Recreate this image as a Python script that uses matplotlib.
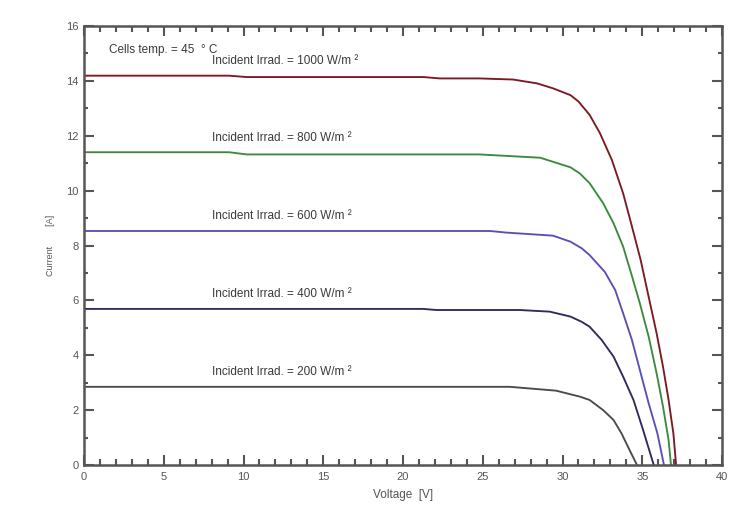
import matplotlib
matplotlib.use("Agg")
from matplotlib import pyplot as plt
from matplotlib.ticker import MultipleLocator

plt.rcParams['font.family'] = ['Liberation Sans', 'DejaVu Sans']

# I-V curves, one per irradiance level
v_1000 = [0, 9.1, 10.2, 21.3, 22.3, 24.8, 26.9, 28.4, 29.4, 30.5, 31.0, 31.7, 32.35,
          33.1, 33.8, 34.3, 34.9, 35.4, 35.9, 36.3, 36.65, 36.95, 37.12]
i_1000 = [14.19, 14.19, 14.14, 14.14, 14.09, 14.09, 14.05, 13.91, 13.73, 13.48, 13.25, 12.76, 12.09,
          11.11, 9.90, 8.81, 7.47, 6.13, 4.80, 3.58, 2.37, 1.15, 0]

v_800 = [0, 9.1, 10.2, 24.8, 28.6, 30.5, 31.1, 31.7, 32.55, 33.2, 33.8, 34.3, 34.85,
         35.4, 35.9, 36.3, 36.65, 36.8]
i_800 = [11.40, 11.40, 11.32, 11.32, 11.20, 10.85, 10.62, 10.27, 9.54, 8.81, 7.96, 6.99, 5.89,
         4.68, 3.34, 2.13, 0.91, 0]

v_600 = [0, 25.45, 26.5, 29.4, 30.5, 31.2, 31.7, 32.65, 33.3, 33.8, 34.35, 34.85,
         35.4, 35.95, 36.36]
i_600 = [8.53, 8.53, 8.47, 8.36, 8.14, 7.90, 7.65, 7.04, 6.38, 5.53, 4.56, 3.46,
         2.25, 1.15, 0]

v_400 = [0, 21.25, 22.1, 27.3, 29.2, 30.5, 31.2, 31.7, 32.45, 33.2, 33.8, 34.45, 35.05, 35.72]
i_400 = [5.69, 5.69, 5.65, 5.65, 5.59, 5.41, 5.22, 5.04, 4.56, 3.95, 3.22, 2.37, 1.28, 0]

v_200 = [0, 26.7, 29.6, 31.1, 31.7, 32.55, 33.2, 33.7, 34.2, 34.67]
i_200 = [2.85, 2.85, 2.71, 2.49, 2.37, 2.00, 1.64, 1.15, 0.55, 0]

curves = [
    (v_1000, i_1000, "#7b1a22", "Incident Irrad. = 1000 W/m ²"),
    (v_800, i_800, "#3b8a3e", "Incident Irrad. = 800 W/m ²"),
    (v_600, i_600, "#5a50b4", "Incident Irrad. = 600 W/m ²"),
    (v_400, i_400, "#2c2b5c", "Incident Irrad. = 400 W/m ²"),
    (v_200, i_200, "#4a4a4a", "Incident Irrad. = 200 W/m ²"),
]

grey = "#555555"

fig = plt.figure(figsize=(7.54, 5.30), dpi=100)
ax = fig.add_axes([0.1114, 0.1226, 0.8462, 0.8283])

for v, i, col, label in curves:
    ax.plot(v, i, color=col, lw=1.35)
    ax.text(8.0, i[0] + 0.53, label, fontsize=8.5, color="#3a3a3a", va="center")

ax.text(1.57, 15.12, "Cells temp. = 45  ° C", fontsize=8.5, color="#3a3a3a", va="center")

ax.set_xlim(0, 40)
ax.set_ylim(0, 16)
ax.xaxis.set_major_locator(MultipleLocator(5))
ax.xaxis.set_minor_locator(MultipleLocator(1))
ax.yaxis.set_major_locator(MultipleLocator(2))
ax.yaxis.set_minor_locator(MultipleLocator(1))

for s in ax.spines.values():
    s.set_color(grey)
    s.set_linewidth(1.8)

ax.tick_params(axis='both', which='both', direction='in', top=True, right=True,
               color=grey, width=1.5, labelcolor=grey, labelsize=8)
ax.tick_params(axis='x', which='major', length=7, pad=5)
ax.tick_params(axis='x', which='minor', length=4.5)
ax.tick_params(axis='y', which='major', length=7, pad=4)
ax.tick_params(axis='y', which='minor', length=3)

ax.set_xlabel("Voltage  [V]", fontsize=8.5, color=grey, labelpad=5)
ax.set_ylabel("Current        [A]", fontsize=6.5, color=grey, labelpad=8)

fig.savefig("out.png", dpi=100)
